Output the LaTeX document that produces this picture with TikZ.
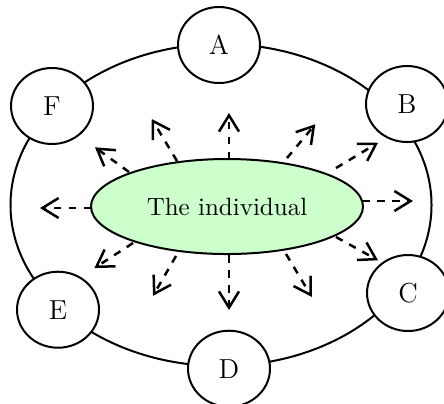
\documentclass[tikz,border=0pt]{standalone}
\usetikzlibrary{arrows.meta, shapes.geometric}

\begin{document}
\begin{tikzpicture}[x=0.4pt,y=0.4pt,
    member/.style={ellipse,draw,thick,fill=white,inner sep=0pt,
                   minimum width=32.8pt,minimum height=30.4pt,
                   font=\fontsize{11}{13}\selectfont},
    spoke/.style={line width=1pt,dashed,-{Straight Barb[length=6.5pt,width=8pt]}}]
    \useasboundingbox (0,0) rectangle (444,403);
    % outer ring
    \draw[thick] (221,198) ellipse [x radius=84.2pt, y radius=64.4pt];
    % members
    \node[member] (A) at (219,358) {A};
    \node[member] (B) at (407,299) {B};
    \node[member] (C) at (408,110) {C};
    \node[member] (D) at (229,34.3) {D};
    \node[member] (E) at (58,93.3) {E};
    \node[member] (F) at (52,297) {F};
    % centre
    \node[ellipse,draw,thick,fill=green!20,inner sep=0pt,
          minimum width=108.8pt,minimum height=38pt]
         (ind) at (227,196.5) {The individual};
    % arrows
    \foreach \sx/\sy/\d/\l in {135/5.5/0/51, 109/38.5/31/49, 60/48.5/50/44,
                               2/47.5/90/46, -50/45.5/121/49, -98/34.5/144/42,
                               -136/-1.5/180/51, -94/-36.5/213/46, -51/-49.5/240/46,
                               2/-48.5/270/55, 59/-47.5/301/50, 109/-30.5/331/48}
      \draw[spoke] ([shift={(\sx,\sy)}]ind.center) -- ++(\d:\l);
\end{tikzpicture}
\end{document}
